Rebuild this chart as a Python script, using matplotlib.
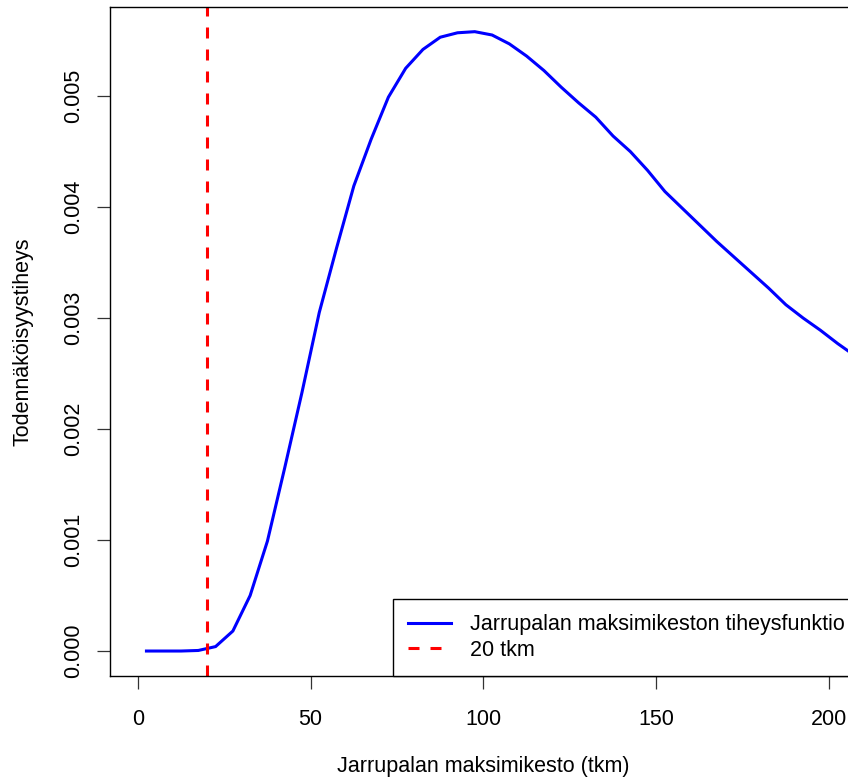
import matplotlib
matplotlib.use("Agg")
import matplotlib.pyplot as plt

plt.rcParams['font.family'] = ['Liberation Sans', 'DejaVu Sans']

# Data
km = [2.5, 7.5, 12.5, 17.5, 22.5, 27.5, 32.5, 37.5, 42.5, 47.5, 52.5, 57.5,
      62.5, 67.5, 72.5, 77.5, 82.5, 87.5, 92.5, 97.5, 102.5, 107.5, 112.5,
      117.5, 122.5, 127.5, 132.5, 137.5, 142.5, 147.5, 152.5, 157.5, 162.5,
      167.5, 172.5, 177.5, 182.5, 187.5, 192.5, 197.5, 202.5, 207.5]
density = [0.0, 0.0, 0.0, 0.000005, 0.00004, 0.00018, 0.0005, 0.00099,
           0.00165, 0.00233, 0.00305, 0.00363, 0.00419, 0.00461, 0.00499,
           0.00525, 0.00542, 0.00553, 0.00557, 0.00558, 0.00555, 0.00547,
           0.00536, 0.00523, 0.00508, 0.00494, 0.00481, 0.00464, 0.00450,
           0.00433, 0.00414, 0.00399, 0.00384, 0.00369, 0.00355, 0.00341,
           0.00327, 0.00312, 0.00300, 0.00289, 0.00277, 0.00266]
threshold = 20
xticks = [0, 50, 100, 150, 200]
yticks = [0.000, 0.001, 0.002, 0.003, 0.004, 0.005]
ytick_labels = ["0.000", "0.001", "0.002", "0.003", "0.004", "0.005"]
curve_label = "Jarrupalan maksimikeston tiheysfunktio"
line_label = "20 tkm"
xlabel = "Jarrupalan maksimikesto (tkm)"
ylabel = "Todennäköisyystiheys"

W, H = 848, 781
fig = plt.figure(figsize=(W / 100, H / 100), dpi=100)
left, right, top, bottom = 110.3, 856.7, 6.7, 676.0
ax = fig.add_axes([left / W, (H - bottom) / H, (right - left) / W, (bottom - top) / H])

ax.plot(km, density, color="#0000FF", lw=2.2, label=curve_label, solid_joinstyle="miter")
ax.axvline(threshold, color="#FF0000", lw=2.2, linestyle=(0, (3.6, 3.6)), label=line_label)

ax.set_xlim(-7.96, 208.0)
ax.set_ylim(-0.000225, 0.005805)
ax.set_xticks(xticks)
ax.set_xticklabels([str(t) for t in xticks])
ax.set_yticks(yticks)
ax.set_yticklabels(ytick_labels, rotation=90, va="center")

fs = 15.5
ax.tick_params(axis="both", direction="out", length=9.5, width=0.9, labelsize=fs, color="#333333")
ax.tick_params(axis="x", pad=14)
ax.tick_params(axis="y", pad=9.5)
for s in ax.spines.values():
    s.set_linewidth(1.0)
    s.set_color("black")

ax.set_xlabel(xlabel, fontsize=fs, labelpad=19)
ax.set_ylabel(ylabel, fontsize=fs, labelpad=21)

leg_x = (393.3 - left) / (right - left)
leg = ax.legend(loc="lower left", bbox_to_anchor=(leg_x, 0.0), borderaxespad=0,
                fancybox=False, framealpha=1, edgecolor="black", fontsize=fs,
                borderpad=0.7, handlelength=2.0, handletextpad=0.85, labelspacing=0.22)
leg.get_frame().set_linewidth(1.0)

fig.savefig("out.png", dpi=100)
